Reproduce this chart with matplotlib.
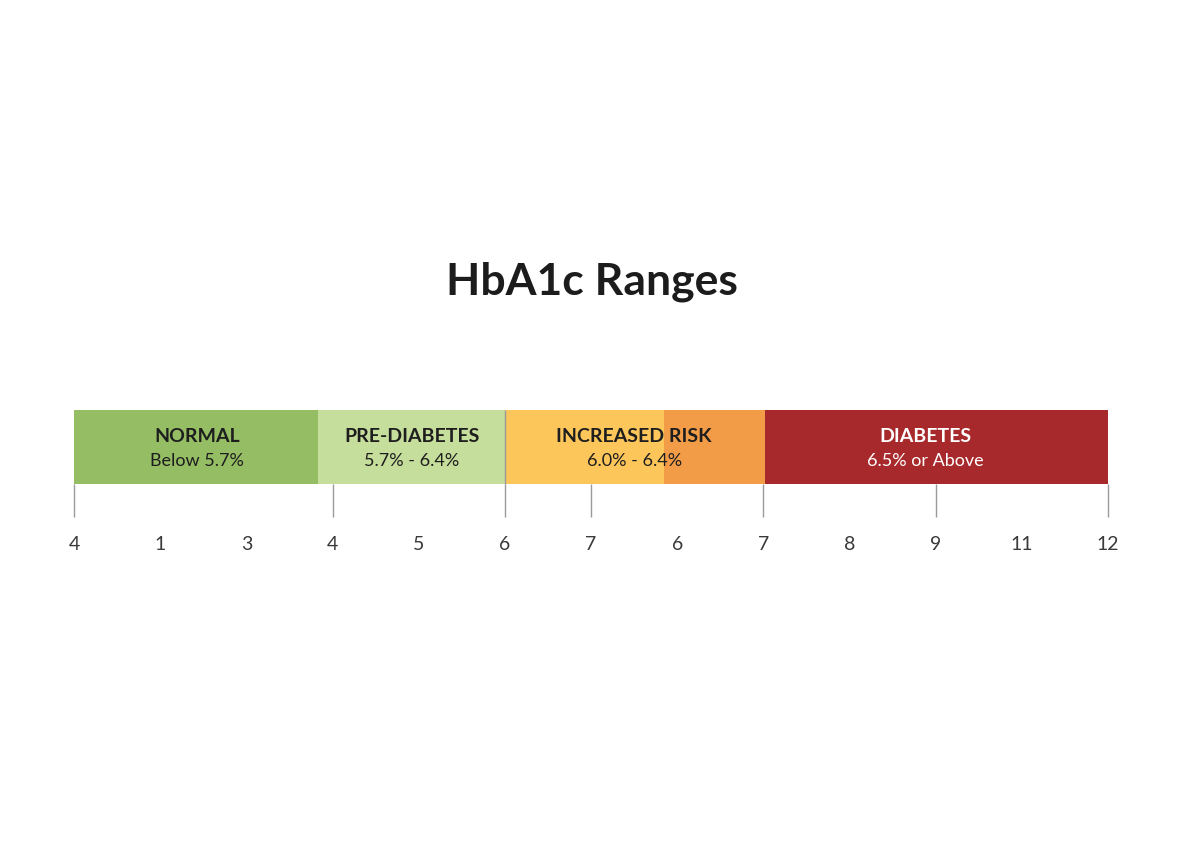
import matplotlib.pyplot as plt

plt.rcParams['font.family'] = ['Lato', 'DejaVu Sans']

# range segments on the index scale (0..12)
seg_names = ["NORMAL", "PRE-DIABETES", "INCREASED RISK", "", "DIABETES"]
seg_sub = ["Below 5.7%", "5.7% - 6.4%", "6.0% - 6.4%", "", "6.5% or Above"]
seg_start = [0, 2.83, 5.0, 6.85, 8.02]
seg_end = [2.83, 5.0, 6.85, 8.02, 12.0]
seg_colors = ["#95bd64", "#c6de9b", "#fdc65b", "#f39c47", "#a8292b"]
text_x = [1.43, 3.92, 6.5, None, 9.88]
text_colors = ["#1e1e1e", "#1e1e1e", "#1e1e1e", None, "#ffffff"]

tick_labels = ["4", "1", "3", "4", "5", "6", "7", "6", "7", "8", "9", "11", "12"]
tick_lines = [0, 3, 5, 6, 8, 10, 12]

fig = plt.figure(figsize=(11.84, 8.64), dpi=100)
ax = fig.add_axes([0, 0, 1, 1])
ax.set_xlim(-74 / 86.17, (1184 - 74) / 86.17)
ax.set_ylim(-(864 - 484) / 74, 1 + 410 / 74)
ax.axis("off")

widths = [e - s for s, e in zip(seg_start, seg_end)]
ax.barh(0.5, widths, left=seg_start, height=1, color=seg_colors, edgecolor="none")

for i in range(len(seg_names)):
    if not seg_names[i]:
        continue
    ax.text(text_x[i], 0.64, seg_names[i], ha="center", va="center",
            fontsize=14, fontweight="bold", color=text_colors[i])
    ax.text(text_x[i], 0.31, seg_sub[i], ha="center", va="center",
            fontsize=13, color=text_colors[i])

# divider between pre-diabetes and increased risk
ax.vlines(5, 0, 1, color="#9a9a9a", lw=1)

ax.vlines(tick_lines, -33 / 74, 0, color="#9a9a9a", lw=1)
for i, lab in enumerate(tick_labels):
    ax.text(i, -60 / 74, lab, ha="center", va="center", fontsize=14, color="#3a3a3a")

fig.text(0.5, 1 - 282 / 864, "HbA1c Ranges", ha="center", va="center",
         fontsize=32, fontweight="bold", color="#1c1c1c")

fig.savefig("out.png", dpi=100, facecolor="white")
